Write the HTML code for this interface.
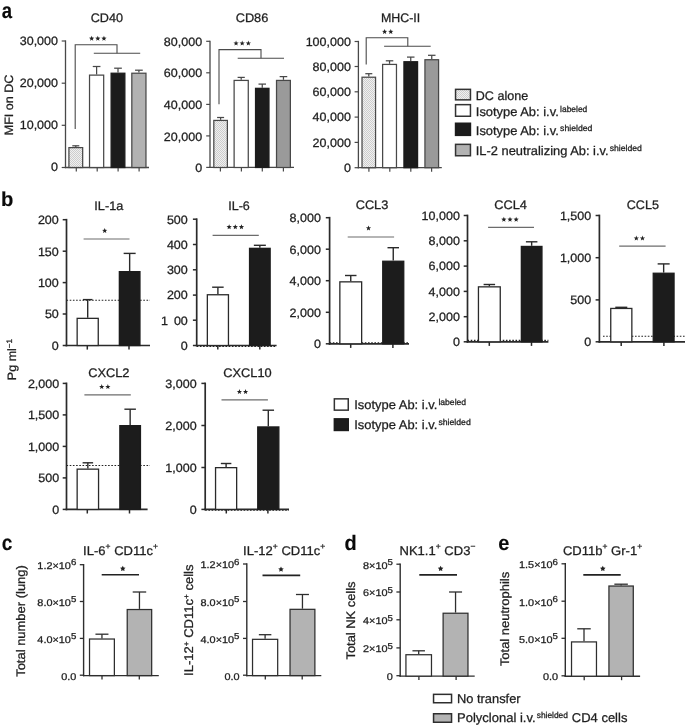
<!DOCTYPE html>
<html><head><meta charset="utf-8"><title>Figure</title>
<style>
html,body{margin:0;padding:0;background:#fff;}
body{width:685px;height:726px;overflow:hidden;font-family:"Liberation Sans",sans-serif;}
svg{display:block;will-change:transform;opacity:0.999;text-rendering:geometricPrecision;font-family:"Liberation Sans",sans-serif;}
</style></head><body>
<svg width="685" height="726" viewBox="0 0 685 726">
<defs>
<pattern id="dots" width="2" height="2" patternUnits="userSpaceOnUse">
<rect width="2" height="2" fill="#f0f0f0"/><rect width="1" height="1" fill="#cdcdcd"/><rect x="1" y="1" width="1" height="1" fill="#cdcdcd"/>
</pattern>
</defs>
<rect width="685" height="726" fill="#fff"/>
<text transform="translate(1.80,18.20) scale(0.85,1)" font-size="21.8" text-anchor="start" font-weight="bold" fill="#0a0a0a" stroke="#0a0a0a" stroke-width="0.15" >a</text>
<text transform="translate(1.10,205.80) scale(1.0,1)" font-size="20.2" text-anchor="start" font-weight="bold" fill="#0a0a0a" stroke="#0a0a0a" stroke-width="0.15" >b</text>
<text transform="translate(1.80,549.80) scale(0.89,1)" font-size="21.5" text-anchor="start" font-weight="bold" fill="#0a0a0a" stroke="#0a0a0a" stroke-width="0.15" >c</text>
<text transform="translate(344.60,549.80) scale(0.96,1)" font-size="20.8" text-anchor="start" font-weight="bold" fill="#0a0a0a" stroke="#0a0a0a" stroke-width="0.15" >d</text>
<text transform="translate(498.30,550.20) scale(0.95,1)" font-size="21" text-anchor="start" font-weight="bold" fill="#0a0a0a" stroke="#0a0a0a" stroke-width="0.15" >e</text>
<text transform="translate(106.80,22.30) scale(1.0195063442964458,1)" font-size="12.4" text-anchor="middle" font-weight="normal" fill="#1f1f1f" stroke="#1f1f1f" stroke-width="0.28" >CD40</text>
<line x1="65.50" y1="40.35" x2="65.50" y2="168.15" stroke="#484848" stroke-width="1.3" />
<line x1="64.85" y1="167.50" x2="149.00" y2="167.50" stroke="#484848" stroke-width="1.3" />
<line x1="61.70" y1="41.00" x2="65.50" y2="41.00" stroke="#484848" stroke-width="1.2" />
<text transform="translate(58.00,44.70) scale(1.035,1)" font-size="12.1" text-anchor="end" font-weight="normal" fill="#1f1f1f" stroke="#1f1f1f" stroke-width="0.28" >30,000</text>
<line x1="61.70" y1="83.20" x2="65.50" y2="83.20" stroke="#484848" stroke-width="1.2" />
<text transform="translate(58.00,86.90) scale(1.035,1)" font-size="12.1" text-anchor="end" font-weight="normal" fill="#1f1f1f" stroke="#1f1f1f" stroke-width="0.28" >20,000</text>
<line x1="61.70" y1="125.30" x2="65.50" y2="125.30" stroke="#484848" stroke-width="1.2" />
<text transform="translate(58.00,129.00) scale(1.035,1)" font-size="12.1" text-anchor="end" font-weight="normal" fill="#1f1f1f" stroke="#1f1f1f" stroke-width="0.28" >10,000</text>
<line x1="61.70" y1="167.50" x2="65.50" y2="167.50" stroke="#484848" stroke-width="1.2" />
<text transform="translate(58.00,171.20) scale(1.035,1)" font-size="12.1" text-anchor="end" font-weight="normal" fill="#1f1f1f" stroke="#1f1f1f" stroke-width="0.28" >0</text>
<line x1="76.30" y1="167.50" x2="76.30" y2="171.60" stroke="#484848" stroke-width="1.2" />
<line x1="97.20" y1="167.50" x2="97.20" y2="171.60" stroke="#484848" stroke-width="1.2" />
<line x1="118.10" y1="167.50" x2="118.10" y2="171.60" stroke="#484848" stroke-width="1.2" />
<line x1="139.10" y1="167.50" x2="139.10" y2="171.60" stroke="#484848" stroke-width="1.2" />
<line x1="75.80" y1="145.80" x2="75.80" y2="147.00" stroke="#484848" stroke-width="1.25" />
<line x1="72.30" y1="145.80" x2="79.30" y2="145.80" stroke="#484848" stroke-width="1.25" />
<rect x="68.92" y="147.62" width="13.75" height="19.88" fill="url(#dots)" stroke="#484848" stroke-width="1.25"/>
<line x1="96.60" y1="66.50" x2="96.60" y2="74.50" stroke="#484848" stroke-width="1.25" />
<line x1="92.75" y1="66.50" x2="100.45" y2="66.50" stroke="#484848" stroke-width="1.25" />
<rect x="89.53" y="75.12" width="14.15" height="92.38" fill="#fff" stroke="#484848" stroke-width="1.25"/>
<line x1="118.00" y1="68.20" x2="118.00" y2="72.60" stroke="#484848" stroke-width="1.25" />
<line x1="114.15" y1="68.20" x2="121.85" y2="68.20" stroke="#484848" stroke-width="1.25" />
<rect x="111.12" y="73.22" width="13.75" height="94.28" fill="#1c1c1c" stroke="#1c1c1c" stroke-width="1.25"/>
<line x1="138.90" y1="70.20" x2="138.90" y2="72.60" stroke="#484848" stroke-width="1.25" />
<line x1="135.05" y1="70.20" x2="142.75" y2="70.20" stroke="#484848" stroke-width="1.25" />
<rect x="131.82" y="73.22" width="14.15" height="94.28" fill="#b2b2b2" stroke="#484848" stroke-width="1.25"/>
<polyline points="75.20,129.00 75.20,44.70 117.00,44.70 117.00,53.30" fill="none" stroke="#4a4a4a" stroke-width="1.1"/>
<line x1="93.80" y1="53.30" x2="140.20" y2="53.30" stroke="#4a4a4a" stroke-width="1.1" />
<polygon points="91.65,35.80 92.33,37.62 94.27,37.70 92.75,38.91 93.27,40.77 91.65,39.71 90.03,40.77 90.55,38.91 89.03,37.70 90.97,37.62" fill="#222"/>
<polygon points="97.80,35.80 98.48,37.62 100.42,37.70 98.90,38.91 99.42,40.77 97.80,39.71 96.18,40.77 96.70,38.91 95.18,37.70 97.12,37.62" fill="#222"/>
<polygon points="103.95,35.80 104.63,37.62 106.57,37.70 105.05,38.91 105.57,40.77 103.95,39.71 102.33,40.77 102.85,38.91 101.33,37.70 103.27,37.62" fill="#222"/>
<text transform="translate(12.60,105.00) rotate(-90) scale(1.035,1)" font-size="12.1" text-anchor="middle" font-weight="normal" fill="#1f1f1f" stroke="#1f1f1f" stroke-width="0.28" >MFI on DC</text>
<text transform="translate(252.00,22.30) scale(1.0321318098604886,1)" font-size="12.4" text-anchor="middle" font-weight="normal" fill="#1f1f1f" stroke="#1f1f1f" stroke-width="0.28" >CD86</text>
<line x1="210.00" y1="40.65" x2="210.00" y2="168.05" stroke="#484848" stroke-width="1.3" />
<line x1="209.35" y1="167.40" x2="294.00" y2="167.40" stroke="#484848" stroke-width="1.3" />
<line x1="206.20" y1="41.30" x2="210.00" y2="41.30" stroke="#484848" stroke-width="1.2" />
<text transform="translate(202.10,45.90) scale(1.035,1)" font-size="12.1" text-anchor="end" font-weight="normal" fill="#1f1f1f" stroke="#1f1f1f" stroke-width="0.28" >80,000</text>
<line x1="206.20" y1="72.80" x2="210.00" y2="72.80" stroke="#484848" stroke-width="1.2" />
<text transform="translate(202.10,77.40) scale(1.035,1)" font-size="12.1" text-anchor="end" font-weight="normal" fill="#1f1f1f" stroke="#1f1f1f" stroke-width="0.28" >60,000</text>
<line x1="206.20" y1="104.40" x2="210.00" y2="104.40" stroke="#484848" stroke-width="1.2" />
<text transform="translate(202.10,109.00) scale(1.035,1)" font-size="12.1" text-anchor="end" font-weight="normal" fill="#1f1f1f" stroke="#1f1f1f" stroke-width="0.28" >40,000</text>
<line x1="206.20" y1="135.90" x2="210.00" y2="135.90" stroke="#484848" stroke-width="1.2" />
<text transform="translate(202.10,140.50) scale(1.035,1)" font-size="12.1" text-anchor="end" font-weight="normal" fill="#1f1f1f" stroke="#1f1f1f" stroke-width="0.28" >20,000</text>
<line x1="206.20" y1="167.40" x2="210.00" y2="167.40" stroke="#484848" stroke-width="1.2" />
<text transform="translate(202.10,172.00) scale(1.035,1)" font-size="12.1" text-anchor="end" font-weight="normal" fill="#1f1f1f" stroke="#1f1f1f" stroke-width="0.28" >0</text>
<line x1="220.40" y1="167.40" x2="220.40" y2="171.50" stroke="#484848" stroke-width="1.2" />
<line x1="241.40" y1="167.40" x2="241.40" y2="171.50" stroke="#484848" stroke-width="1.2" />
<line x1="262.30" y1="167.40" x2="262.30" y2="171.50" stroke="#484848" stroke-width="1.2" />
<line x1="283.40" y1="167.40" x2="283.40" y2="171.50" stroke="#484848" stroke-width="1.2" />
<line x1="220.60" y1="117.50" x2="220.60" y2="119.80" stroke="#484848" stroke-width="1.25" />
<line x1="217.10" y1="117.50" x2="224.10" y2="117.50" stroke="#484848" stroke-width="1.25" />
<rect x="213.82" y="120.42" width="13.55" height="47.08" fill="url(#dots)" stroke="#484848" stroke-width="1.25"/>
<line x1="241.20" y1="77.40" x2="241.20" y2="79.80" stroke="#484848" stroke-width="1.25" />
<line x1="237.60" y1="77.40" x2="244.80" y2="77.40" stroke="#484848" stroke-width="1.25" />
<rect x="234.12" y="80.42" width="14.15" height="87.08" fill="#fff" stroke="#484848" stroke-width="1.25"/>
<line x1="262.25" y1="84.10" x2="262.25" y2="87.70" stroke="#484848" stroke-width="1.25" />
<line x1="258.50" y1="84.10" x2="266.00" y2="84.10" stroke="#484848" stroke-width="1.25" />
<rect x="255.53" y="88.33" width="13.45" height="79.17" fill="#1c1c1c" stroke="#1c1c1c" stroke-width="1.25"/>
<line x1="283.45" y1="76.60" x2="283.45" y2="79.80" stroke="#484848" stroke-width="1.25" />
<line x1="279.65" y1="76.60" x2="287.25" y2="76.60" stroke="#484848" stroke-width="1.25" />
<rect x="276.52" y="80.42" width="13.85" height="87.08" fill="#9a9a9a" stroke="#484848" stroke-width="1.25"/>
<polyline points="219.00,104.20 219.00,49.60 261.00,49.60 261.00,58.30" fill="none" stroke="#4a4a4a" stroke-width="1.1"/>
<line x1="237.70" y1="58.30" x2="284.00" y2="58.30" stroke="#4a4a4a" stroke-width="1.1" />
<polygon points="236.05,40.60 236.73,42.42 238.67,42.50 237.15,43.71 237.67,45.57 236.05,44.51 234.43,45.57 234.95,43.71 233.43,42.50 235.37,42.42" fill="#222"/>
<polygon points="242.20,40.60 242.88,42.42 244.82,42.50 243.30,43.71 243.82,45.57 242.20,44.51 240.58,45.57 241.10,43.71 239.58,42.50 241.52,42.42" fill="#222"/>
<polygon points="248.35,40.60 249.03,42.42 250.97,42.50 249.45,43.71 249.97,45.57 248.35,44.51 246.73,45.57 247.25,43.71 245.73,42.50 247.67,42.42" fill="#222"/>
<text transform="translate(400.60,22.30) scale(1.0013759364011618,1)" font-size="12.4" text-anchor="middle" font-weight="normal" fill="#1f1f1f" stroke="#1f1f1f" stroke-width="0.28" >MHC-II</text>
<line x1="358.40" y1="40.85" x2="358.40" y2="168.35" stroke="#484848" stroke-width="1.3" />
<line x1="357.75" y1="167.70" x2="441.80" y2="167.70" stroke="#484848" stroke-width="1.3" />
<line x1="354.60" y1="41.50" x2="358.40" y2="41.50" stroke="#484848" stroke-width="1.2" />
<text transform="translate(350.90,45.80) scale(1.035,1)" font-size="12.1" text-anchor="end" font-weight="normal" fill="#1f1f1f" stroke="#1f1f1f" stroke-width="0.28" >100,000</text>
<line x1="354.60" y1="66.50" x2="358.40" y2="66.50" stroke="#484848" stroke-width="1.2" />
<text transform="translate(350.90,70.80) scale(1.035,1)" font-size="12.1" text-anchor="end" font-weight="normal" fill="#1f1f1f" stroke="#1f1f1f" stroke-width="0.28" >80,000</text>
<line x1="354.60" y1="91.80" x2="358.40" y2="91.80" stroke="#484848" stroke-width="1.2" />
<text transform="translate(350.90,96.10) scale(1.035,1)" font-size="12.1" text-anchor="end" font-weight="normal" fill="#1f1f1f" stroke="#1f1f1f" stroke-width="0.28" >60,000</text>
<line x1="354.60" y1="117.10" x2="358.40" y2="117.10" stroke="#484848" stroke-width="1.2" />
<text transform="translate(350.90,121.40) scale(1.035,1)" font-size="12.1" text-anchor="end" font-weight="normal" fill="#1f1f1f" stroke="#1f1f1f" stroke-width="0.28" >40,000</text>
<line x1="354.60" y1="142.40" x2="358.40" y2="142.40" stroke="#484848" stroke-width="1.2" />
<text transform="translate(350.90,146.70) scale(1.035,1)" font-size="12.1" text-anchor="end" font-weight="normal" fill="#1f1f1f" stroke="#1f1f1f" stroke-width="0.28" >20,000</text>
<line x1="354.60" y1="167.70" x2="358.40" y2="167.70" stroke="#484848" stroke-width="1.2" />
<text transform="translate(350.90,172.00) scale(1.035,1)" font-size="12.1" text-anchor="end" font-weight="normal" fill="#1f1f1f" stroke="#1f1f1f" stroke-width="0.28" >0</text>
<line x1="368.90" y1="167.70" x2="368.90" y2="171.80" stroke="#484848" stroke-width="1.2" />
<line x1="389.80" y1="167.70" x2="389.80" y2="171.80" stroke="#484848" stroke-width="1.2" />
<line x1="410.80" y1="167.70" x2="410.80" y2="171.80" stroke="#484848" stroke-width="1.2" />
<line x1="431.60" y1="167.70" x2="431.60" y2="171.80" stroke="#484848" stroke-width="1.2" />
<line x1="368.80" y1="73.70" x2="368.80" y2="76.60" stroke="#484848" stroke-width="1.25" />
<line x1="365.30" y1="73.70" x2="372.30" y2="73.70" stroke="#484848" stroke-width="1.25" />
<rect x="362.02" y="77.22" width="13.55" height="90.47" fill="url(#dots)" stroke="#484848" stroke-width="1.25"/>
<line x1="389.55" y1="60.80" x2="389.55" y2="63.80" stroke="#484848" stroke-width="1.25" />
<line x1="385.80" y1="60.80" x2="393.30" y2="60.80" stroke="#484848" stroke-width="1.25" />
<rect x="382.62" y="64.42" width="13.85" height="103.27" fill="#fff" stroke="#484848" stroke-width="1.25"/>
<line x1="410.75" y1="57.10" x2="410.75" y2="61.10" stroke="#484848" stroke-width="1.25" />
<line x1="407.00" y1="57.10" x2="414.50" y2="57.10" stroke="#484848" stroke-width="1.25" />
<rect x="403.93" y="61.73" width="13.65" height="105.97" fill="#1c1c1c" stroke="#1c1c1c" stroke-width="1.25"/>
<line x1="431.75" y1="55.30" x2="431.75" y2="59.10" stroke="#484848" stroke-width="1.25" />
<line x1="428.00" y1="55.30" x2="435.50" y2="55.30" stroke="#484848" stroke-width="1.25" />
<rect x="424.93" y="59.73" width="13.65" height="107.97" fill="#9a9a9a" stroke="#484848" stroke-width="1.25"/>
<polyline points="366.20,64.50 366.20,37.80 407.80,37.80 407.80,46.20" fill="none" stroke="#4a4a4a" stroke-width="1.1"/>
<line x1="384.10" y1="46.20" x2="430.70" y2="46.20" stroke="#4a4a4a" stroke-width="1.1" />
<polygon points="384.62,29.00 385.30,30.82 387.24,30.90 385.72,32.11 386.24,33.97 384.62,32.91 383.01,33.97 383.53,32.11 382.01,30.90 383.95,30.82" fill="#222"/>
<polygon points="390.77,29.00 391.45,30.82 393.39,30.90 391.87,32.11 392.39,33.97 390.77,32.91 389.16,33.97 389.68,32.11 388.16,30.90 390.10,30.82" fill="#222"/>
<rect x="455.55" y="89.35" width="14.90" height="10.50" fill="url(#dots)" stroke="#333" stroke-width="1.5"/>
<rect x="455.55" y="104.65" width="14.90" height="11.60" fill="#fff" stroke="#333" stroke-width="1.5"/>
<rect x="455.55" y="123.25" width="14.90" height="12.10" fill="#1c1c1c" stroke="#1c1c1c" stroke-width="1.5"/>
<rect x="455.55" y="144.35" width="14.90" height="11.40" fill="#b2b2b2" stroke="#333" stroke-width="1.5"/>
<text transform="translate(475.80,99.50) scale(0.9972974001750986,1)" font-size="12.6" text-anchor="start" font-weight="normal" fill="#1f1f1f" stroke="#1f1f1f" stroke-width="0.28" >DC alone</text>
<text transform="translate(475.80,115.90) scale(1.0244636994248184,1)" font-size="12.6" text-anchor="start" font-weight="normal" fill="#1f1f1f" stroke="#1f1f1f" stroke-width="0.28" >Isotype Ab: i.v.</text>
<text transform="translate(560.10,112.00) scale(0.9922480620155013,1)" font-size="8.5" text-anchor="start" font-weight="normal" fill="#1f1f1f" stroke="#1f1f1f" stroke-width="0.28" >labeled</text>
<text transform="translate(475.80,134.60) scale(1.0244636994248184,1)" font-size="12.6" text-anchor="start" font-weight="normal" fill="#1f1f1f" stroke="#1f1f1f" stroke-width="0.28" >Isotype Ab: i.v.</text>
<text transform="translate(560.10,130.70) scale(1.01697591788393,1)" font-size="8.5" text-anchor="start" font-weight="normal" fill="#1f1f1f" stroke="#1f1f1f" stroke-width="0.28" >shielded</text>
<text transform="translate(475.80,154.90) scale(1.0212870677986958,1)" font-size="12.6" text-anchor="start" font-weight="normal" fill="#1f1f1f" stroke="#1f1f1f" stroke-width="0.28" >IL-2 neutralizing Ab: i.v.</text>
<text transform="translate(609.70,151.00) scale(1.01697591788393,1)" font-size="8.5" text-anchor="start" font-weight="normal" fill="#1f1f1f" stroke="#1f1f1f" stroke-width="0.28" >shielded</text>
<text transform="translate(108.80,210.30) scale(1.0235053292863698,1)" font-size="12.4" text-anchor="middle" font-weight="normal" fill="#1f1f1f" stroke="#1f1f1f" stroke-width="0.28" >IL-1a</text>
<line x1="66.50" y1="300.30" x2="150.00" y2="300.30" stroke="#222" stroke-width="1.1" stroke-dasharray="1.6 1.6"/>
<line x1="66.50" y1="218.85" x2="66.50" y2="346.35" stroke="#2a2a2a" stroke-width="1.7" />
<line x1="65.65" y1="345.50" x2="150.00" y2="345.50" stroke="#2a2a2a" stroke-width="1.7" />
<line x1="62.70" y1="219.70" x2="66.50" y2="219.70" stroke="#2a2a2a" stroke-width="1.5" />
<text transform="translate(58.80,224.00) scale(1.035,1)" font-size="12.1" text-anchor="end" font-weight="normal" fill="#1f1f1f" stroke="#1f1f1f" stroke-width="0.28" >200</text>
<line x1="62.70" y1="251.20" x2="66.50" y2="251.20" stroke="#2a2a2a" stroke-width="1.5" />
<text transform="translate(58.80,255.50) scale(1.035,1)" font-size="12.1" text-anchor="end" font-weight="normal" fill="#1f1f1f" stroke="#1f1f1f" stroke-width="0.28" >150</text>
<line x1="62.70" y1="282.60" x2="66.50" y2="282.60" stroke="#2a2a2a" stroke-width="1.5" />
<text transform="translate(58.80,286.90) scale(1.035,1)" font-size="12.1" text-anchor="end" font-weight="normal" fill="#1f1f1f" stroke="#1f1f1f" stroke-width="0.28" >100</text>
<line x1="62.70" y1="314.00" x2="66.50" y2="314.00" stroke="#2a2a2a" stroke-width="1.5" />
<text transform="translate(58.80,318.30) scale(1.035,1)" font-size="12.1" text-anchor="end" font-weight="normal" fill="#1f1f1f" stroke="#1f1f1f" stroke-width="0.28" >50</text>
<line x1="62.70" y1="345.50" x2="66.50" y2="345.50" stroke="#2a2a2a" stroke-width="1.5" />
<text transform="translate(58.80,349.80) scale(1.035,1)" font-size="12.1" text-anchor="end" font-weight="normal" fill="#1f1f1f" stroke="#1f1f1f" stroke-width="0.28" >0</text>
<line x1="87.30" y1="345.50" x2="87.30" y2="349.60" stroke="#2a2a2a" stroke-width="1.5" />
<line x1="129.00" y1="345.50" x2="129.00" y2="349.60" stroke="#2a2a2a" stroke-width="1.5" />
<line x1="87.70" y1="299.60" x2="87.70" y2="317.70" stroke="#2a2a2a" stroke-width="1.4" />
<line x1="82.95" y1="299.60" x2="92.45" y2="299.60" stroke="#2a2a2a" stroke-width="1.4" />
<rect x="77.15" y="318.35" width="21.10" height="27.15" fill="#fff" stroke="#2a2a2a" stroke-width="1.3"/>
<line x1="129.65" y1="253.40" x2="129.65" y2="271.00" stroke="#2a2a2a" stroke-width="1.4" />
<line x1="123.65" y1="253.40" x2="135.65" y2="253.40" stroke="#2a2a2a" stroke-width="1.4" />
<rect x="119.35" y="271.65" width="20.60" height="73.85" fill="#1c1c1c" stroke="#1c1c1c" stroke-width="1.3"/>
<line x1="83.60" y1="239.00" x2="129.50" y2="239.00" stroke="#6c6c6c" stroke-width="1.2" />
<polygon points="104.70,228.00 105.38,229.82 107.32,229.90 105.80,231.11 106.32,232.97 104.70,231.91 103.08,232.97 103.60,231.11 102.08,229.90 104.02,229.82" fill="#222"/>
<text transform="translate(239.00,209.80) scale(1.0098176718092566,1)" font-size="12.4" text-anchor="middle" font-weight="normal" fill="#1f1f1f" stroke="#1f1f1f" stroke-width="0.28" >IL-6</text>
<line x1="196.70" y1="346.40" x2="276.60" y2="346.40" stroke="#222" stroke-width="1.1" stroke-dasharray="1.6 1.6"/>
<line x1="196.70" y1="218.35" x2="196.70" y2="346.35" stroke="#2a2a2a" stroke-width="1.7" />
<line x1="195.85" y1="345.50" x2="276.60" y2="345.50" stroke="#2a2a2a" stroke-width="1.7" />
<line x1="192.90" y1="219.20" x2="196.70" y2="219.20" stroke="#2a2a2a" stroke-width="1.5" />
<text transform="translate(187.80,223.50) scale(1.035,1)" font-size="12.1" text-anchor="end" font-weight="normal" fill="#1f1f1f" stroke="#1f1f1f" stroke-width="0.28" >500</text>
<line x1="192.90" y1="244.50" x2="196.70" y2="244.50" stroke="#2a2a2a" stroke-width="1.5" />
<text transform="translate(187.80,248.80) scale(1.035,1)" font-size="12.1" text-anchor="end" font-weight="normal" fill="#1f1f1f" stroke="#1f1f1f" stroke-width="0.28" >400</text>
<line x1="192.90" y1="269.80" x2="196.70" y2="269.80" stroke="#2a2a2a" stroke-width="1.5" />
<text transform="translate(187.80,274.10) scale(1.035,1)" font-size="12.1" text-anchor="end" font-weight="normal" fill="#1f1f1f" stroke="#1f1f1f" stroke-width="0.28" >300</text>
<line x1="192.90" y1="295.10" x2="196.70" y2="295.10" stroke="#2a2a2a" stroke-width="1.5" />
<text transform="translate(187.80,299.40) scale(1.035,1)" font-size="12.1" text-anchor="end" font-weight="normal" fill="#1f1f1f" stroke="#1f1f1f" stroke-width="0.28" >200</text>
<line x1="192.90" y1="320.20" x2="196.70" y2="320.20" stroke="#2a2a2a" stroke-width="1.5" />
<text transform="translate(187.80,324.50) scale(1.035,1)" font-size="12.1" text-anchor="end" font-weight="normal" fill="#1f1f1f" stroke="#1f1f1f" stroke-width="0.28" >1<tspan dx="5.6">00</tspan></text>
<line x1="192.90" y1="345.50" x2="196.70" y2="345.50" stroke="#2a2a2a" stroke-width="1.5" />
<text transform="translate(187.80,349.80) scale(1.035,1)" font-size="12.1" text-anchor="end" font-weight="normal" fill="#1f1f1f" stroke="#1f1f1f" stroke-width="0.28" >0</text>
<line x1="217.80" y1="345.50" x2="217.80" y2="349.60" stroke="#2a2a2a" stroke-width="1.5" />
<line x1="259.80" y1="345.50" x2="259.80" y2="349.60" stroke="#2a2a2a" stroke-width="1.5" />
<line x1="217.90" y1="287.20" x2="217.90" y2="294.10" stroke="#2a2a2a" stroke-width="1.4" />
<line x1="212.15" y1="287.20" x2="223.65" y2="287.20" stroke="#2a2a2a" stroke-width="1.4" />
<rect x="207.35" y="294.75" width="21.10" height="50.75" fill="#fff" stroke="#2a2a2a" stroke-width="1.3"/>
<line x1="259.85" y1="245.30" x2="259.85" y2="247.70" stroke="#2a2a2a" stroke-width="1.4" />
<line x1="253.85" y1="245.30" x2="265.85" y2="245.30" stroke="#2a2a2a" stroke-width="1.4" />
<rect x="249.55" y="248.35" width="20.60" height="97.15" fill="#1c1c1c" stroke="#1c1c1c" stroke-width="1.3"/>
<line x1="212.60" y1="235.30" x2="258.80" y2="235.30" stroke="#6c6c6c" stroke-width="1.2" />
<polygon points="229.15,224.30 229.83,226.12 231.77,226.20 230.25,227.41 230.77,229.27 229.15,228.20 227.53,229.27 228.05,227.41 226.53,226.20 228.47,226.12" fill="#222"/>
<polygon points="235.30,224.30 235.98,226.12 237.92,226.20 236.40,227.41 236.92,229.27 235.30,228.20 233.68,229.27 234.20,227.41 232.68,226.20 234.62,226.12" fill="#222"/>
<polygon points="241.45,224.30 242.13,226.12 244.07,226.20 242.55,227.41 243.07,229.27 241.45,228.20 239.83,229.27 240.35,227.41 238.83,226.20 240.77,226.12" fill="#222"/>
<text transform="translate(372.00,209.30) scale(1.0321318098604886,1)" font-size="12.4" text-anchor="middle" font-weight="normal" fill="#1f1f1f" stroke="#1f1f1f" stroke-width="0.28" >CCL3</text>
<line x1="329.60" y1="342.80" x2="409.00" y2="342.80" stroke="#222" stroke-width="1.1" stroke-dasharray="1.6 1.6"/>
<line x1="329.60" y1="216.85" x2="329.60" y2="344.65" stroke="#2a2a2a" stroke-width="1.7" />
<line x1="328.75" y1="343.80" x2="409.00" y2="343.80" stroke="#2a2a2a" stroke-width="1.7" />
<line x1="325.80" y1="217.70" x2="329.60" y2="217.70" stroke="#2a2a2a" stroke-width="1.5" />
<text transform="translate(320.90,222.00) scale(1.035,1)" font-size="12.1" text-anchor="end" font-weight="normal" fill="#1f1f1f" stroke="#1f1f1f" stroke-width="0.28" >8,000</text>
<line x1="325.80" y1="249.20" x2="329.60" y2="249.20" stroke="#2a2a2a" stroke-width="1.5" />
<text transform="translate(320.90,253.50) scale(1.035,1)" font-size="12.1" text-anchor="end" font-weight="normal" fill="#1f1f1f" stroke="#1f1f1f" stroke-width="0.28" >6,000</text>
<line x1="325.80" y1="280.70" x2="329.60" y2="280.70" stroke="#2a2a2a" stroke-width="1.5" />
<text transform="translate(320.90,285.00) scale(1.035,1)" font-size="12.1" text-anchor="end" font-weight="normal" fill="#1f1f1f" stroke="#1f1f1f" stroke-width="0.28" >4,000</text>
<line x1="325.80" y1="312.30" x2="329.60" y2="312.30" stroke="#2a2a2a" stroke-width="1.5" />
<text transform="translate(320.90,316.60) scale(1.035,1)" font-size="12.1" text-anchor="end" font-weight="normal" fill="#1f1f1f" stroke="#1f1f1f" stroke-width="0.28" >2,000</text>
<line x1="325.80" y1="343.80" x2="329.60" y2="343.80" stroke="#2a2a2a" stroke-width="1.5" />
<text transform="translate(320.90,348.10) scale(1.035,1)" font-size="12.1" text-anchor="end" font-weight="normal" fill="#1f1f1f" stroke="#1f1f1f" stroke-width="0.28" >0</text>
<line x1="350.70" y1="343.80" x2="350.70" y2="347.90" stroke="#2a2a2a" stroke-width="1.5" />
<line x1="392.90" y1="343.80" x2="392.90" y2="347.90" stroke="#2a2a2a" stroke-width="1.5" />
<line x1="350.75" y1="275.50" x2="350.75" y2="281.20" stroke="#2a2a2a" stroke-width="1.4" />
<line x1="345.00" y1="275.50" x2="356.50" y2="275.50" stroke="#2a2a2a" stroke-width="1.4" />
<rect x="339.85" y="281.85" width="21.80" height="61.95" fill="#fff" stroke="#2a2a2a" stroke-width="1.3"/>
<line x1="393.25" y1="247.70" x2="393.25" y2="260.60" stroke="#2a2a2a" stroke-width="1.4" />
<line x1="387.50" y1="247.70" x2="399.00" y2="247.70" stroke="#2a2a2a" stroke-width="1.4" />
<rect x="382.75" y="261.25" width="21.00" height="82.55" fill="#1c1c1c" stroke="#1c1c1c" stroke-width="1.3"/>
<line x1="347.70" y1="237.00" x2="394.10" y2="237.00" stroke="#6c6c6c" stroke-width="1.2" />
<polygon points="368.50,225.50 369.18,227.32 371.12,227.40 369.60,228.61 370.12,230.47 368.50,229.41 366.88,230.47 367.40,228.61 365.88,227.40 367.82,227.32" fill="#222"/>
<text transform="translate(510.60,209.30) scale(1.0321318098604886,1)" font-size="12.4" text-anchor="middle" font-weight="normal" fill="#1f1f1f" stroke="#1f1f1f" stroke-width="0.28" >CCL4</text>
<line x1="467.50" y1="340.40" x2="548.40" y2="340.40" stroke="#222" stroke-width="1.1" stroke-dasharray="1.6 1.6"/>
<line x1="467.50" y1="214.65" x2="467.50" y2="342.65" stroke="#2a2a2a" stroke-width="1.7" />
<line x1="466.65" y1="341.80" x2="548.40" y2="341.80" stroke="#2a2a2a" stroke-width="1.7" />
<line x1="463.70" y1="215.50" x2="467.50" y2="215.50" stroke="#2a2a2a" stroke-width="1.5" />
<text transform="translate(459.90,219.80) scale(1.035,1)" font-size="12.1" text-anchor="end" font-weight="normal" fill="#1f1f1f" stroke="#1f1f1f" stroke-width="0.28" >10,000</text>
<line x1="463.70" y1="240.80" x2="467.50" y2="240.80" stroke="#2a2a2a" stroke-width="1.5" />
<text transform="translate(459.90,245.10) scale(1.035,1)" font-size="12.1" text-anchor="end" font-weight="normal" fill="#1f1f1f" stroke="#1f1f1f" stroke-width="0.28" >8,000</text>
<line x1="463.70" y1="266.10" x2="467.50" y2="266.10" stroke="#2a2a2a" stroke-width="1.5" />
<text transform="translate(459.90,270.40) scale(1.035,1)" font-size="12.1" text-anchor="end" font-weight="normal" fill="#1f1f1f" stroke="#1f1f1f" stroke-width="0.28" >6,000</text>
<line x1="463.70" y1="291.40" x2="467.50" y2="291.40" stroke="#2a2a2a" stroke-width="1.5" />
<text transform="translate(459.90,295.70) scale(1.035,1)" font-size="12.1" text-anchor="end" font-weight="normal" fill="#1f1f1f" stroke="#1f1f1f" stroke-width="0.28" >4,000</text>
<line x1="463.70" y1="316.70" x2="467.50" y2="316.70" stroke="#2a2a2a" stroke-width="1.5" />
<text transform="translate(459.90,321.00) scale(1.035,1)" font-size="12.1" text-anchor="end" font-weight="normal" fill="#1f1f1f" stroke="#1f1f1f" stroke-width="0.28" >2,000</text>
<line x1="463.70" y1="341.80" x2="467.50" y2="341.80" stroke="#2a2a2a" stroke-width="1.5" />
<text transform="translate(459.90,346.10) scale(1.035,1)" font-size="12.1" text-anchor="end" font-weight="normal" fill="#1f1f1f" stroke="#1f1f1f" stroke-width="0.28" >0</text>
<line x1="489.30" y1="341.80" x2="489.30" y2="345.90" stroke="#2a2a2a" stroke-width="1.5" />
<line x1="531.50" y1="341.80" x2="531.50" y2="345.90" stroke="#2a2a2a" stroke-width="1.5" />
<line x1="489.35" y1="284.50" x2="489.35" y2="286.20" stroke="#2a2a2a" stroke-width="1.4" />
<line x1="483.60" y1="284.50" x2="495.10" y2="284.50" stroke="#2a2a2a" stroke-width="1.4" />
<rect x="478.45" y="286.85" width="21.80" height="54.95" fill="#fff" stroke="#2a2a2a" stroke-width="1.3"/>
<line x1="531.65" y1="241.80" x2="531.65" y2="245.80" stroke="#2a2a2a" stroke-width="1.4" />
<line x1="525.90" y1="241.80" x2="537.40" y2="241.80" stroke="#2a2a2a" stroke-width="1.4" />
<rect x="521.35" y="246.45" width="20.60" height="95.35" fill="#1c1c1c" stroke="#1c1c1c" stroke-width="1.3"/>
<line x1="488.10" y1="227.30" x2="534.00" y2="227.30" stroke="#6c6c6c" stroke-width="1.2" />
<polygon points="503.85,216.80 504.53,218.62 506.47,218.70 504.95,219.91 505.47,221.77 503.85,220.70 502.23,221.77 502.75,219.91 501.23,218.70 503.17,218.62" fill="#222"/>
<polygon points="510.00,216.80 510.68,218.62 512.62,218.70 511.10,219.91 511.62,221.77 510.00,220.70 508.38,221.77 508.90,219.91 507.38,218.70 509.32,218.62" fill="#222"/>
<polygon points="516.15,216.80 516.83,218.62 518.77,218.70 517.25,219.91 517.77,221.77 516.15,220.70 514.53,221.77 515.05,219.91 513.53,218.70 515.47,218.62" fill="#222"/>
<text transform="translate(642.80,209.30) scale(1.0163499779054352,1)" font-size="12.4" text-anchor="middle" font-weight="normal" fill="#1f1f1f" stroke="#1f1f1f" stroke-width="0.28" >CCL5</text>
<line x1="603.00" y1="336.30" x2="685.00" y2="336.30" stroke="#222" stroke-width="1.1" stroke-dasharray="1.6 1.6"/>
<line x1="599.40" y1="214.65" x2="599.40" y2="342.65" stroke="#2a2a2a" stroke-width="1.7" />
<line x1="598.55" y1="341.80" x2="685.00" y2="341.80" stroke="#2a2a2a" stroke-width="1.7" />
<line x1="595.60" y1="215.50" x2="599.40" y2="215.50" stroke="#2a2a2a" stroke-width="1.5" />
<text transform="translate(591.20,219.80) scale(1.035,1)" font-size="12.1" text-anchor="end" font-weight="normal" fill="#1f1f1f" stroke="#1f1f1f" stroke-width="0.28" >1,500</text>
<line x1="595.60" y1="257.70" x2="599.40" y2="257.70" stroke="#2a2a2a" stroke-width="1.5" />
<text transform="translate(591.20,262.00) scale(1.035,1)" font-size="12.1" text-anchor="end" font-weight="normal" fill="#1f1f1f" stroke="#1f1f1f" stroke-width="0.28" >1,000</text>
<line x1="595.60" y1="299.90" x2="599.40" y2="299.90" stroke="#2a2a2a" stroke-width="1.5" />
<text transform="translate(591.20,304.20) scale(1.035,1)" font-size="12.1" text-anchor="end" font-weight="normal" fill="#1f1f1f" stroke="#1f1f1f" stroke-width="0.28" >500</text>
<line x1="595.60" y1="341.80" x2="599.40" y2="341.80" stroke="#2a2a2a" stroke-width="1.5" />
<text transform="translate(591.20,346.10) scale(1.035,1)" font-size="12.1" text-anchor="end" font-weight="normal" fill="#1f1f1f" stroke="#1f1f1f" stroke-width="0.28" >0</text>
<line x1="621.20" y1="341.80" x2="621.20" y2="345.90" stroke="#2a2a2a" stroke-width="1.5" />
<line x1="663.90" y1="341.80" x2="663.90" y2="345.90" stroke="#2a2a2a" stroke-width="1.5" />
<line x1="621.30" y1="307.30" x2="621.30" y2="307.80" stroke="#2a2a2a" stroke-width="1.4" />
<line x1="615.30" y1="307.30" x2="627.30" y2="307.30" stroke="#2a2a2a" stroke-width="1.4" />
<rect x="610.75" y="308.45" width="21.10" height="33.35" fill="#fff" stroke="#2a2a2a" stroke-width="1.3"/>
<line x1="663.65" y1="263.90" x2="663.65" y2="272.60" stroke="#2a2a2a" stroke-width="1.4" />
<line x1="657.65" y1="263.90" x2="669.65" y2="263.90" stroke="#2a2a2a" stroke-width="1.4" />
<rect x="653.25" y="273.25" width="20.80" height="68.55" fill="#1c1c1c" stroke="#1c1c1c" stroke-width="1.3"/>
<line x1="619.20" y1="246.20" x2="665.60" y2="246.20" stroke="#6c6c6c" stroke-width="1.2" />
<polygon points="636.32,235.60 637.00,237.42 638.94,237.50 637.42,238.71 637.94,240.57 636.32,239.50 634.71,240.57 635.23,238.71 633.71,237.50 635.65,237.42" fill="#222"/>
<polygon points="642.48,235.60 643.15,237.42 645.09,237.50 643.57,238.71 644.09,240.57 642.48,239.50 640.86,240.57 641.38,238.71 639.86,237.50 641.80,237.42" fill="#222"/>
<text transform="translate(108.80,376.80) scale(1.0352588147036759,1)" font-size="12.4" text-anchor="middle" font-weight="normal" fill="#1f1f1f" stroke="#1f1f1f" stroke-width="0.28" >CXCL2</text>
<line x1="66.50" y1="465.50" x2="150.00" y2="465.50" stroke="#222" stroke-width="1.1" stroke-dasharray="1.6 1.6"/>
<line x1="66.50" y1="382.55" x2="66.50" y2="510.25" stroke="#2a2a2a" stroke-width="1.7" />
<line x1="65.65" y1="509.40" x2="147.60" y2="509.40" stroke="#2a2a2a" stroke-width="1.7" />
<line x1="62.70" y1="383.40" x2="66.50" y2="383.40" stroke="#2a2a2a" stroke-width="1.5" />
<text transform="translate(59.20,387.70) scale(1.035,1)" font-size="12.1" text-anchor="end" font-weight="normal" fill="#1f1f1f" stroke="#1f1f1f" stroke-width="0.28" >2,000</text>
<line x1="62.70" y1="414.90" x2="66.50" y2="414.90" stroke="#2a2a2a" stroke-width="1.5" />
<text transform="translate(59.20,419.20) scale(1.035,1)" font-size="12.1" text-anchor="end" font-weight="normal" fill="#1f1f1f" stroke="#1f1f1f" stroke-width="0.28" >1,500</text>
<line x1="62.70" y1="446.40" x2="66.50" y2="446.40" stroke="#2a2a2a" stroke-width="1.5" />
<text transform="translate(59.20,450.70) scale(1.035,1)" font-size="12.1" text-anchor="end" font-weight="normal" fill="#1f1f1f" stroke="#1f1f1f" stroke-width="0.28" >1,000</text>
<line x1="62.70" y1="477.90" x2="66.50" y2="477.90" stroke="#2a2a2a" stroke-width="1.5" />
<text transform="translate(59.20,482.20) scale(1.035,1)" font-size="12.1" text-anchor="end" font-weight="normal" fill="#1f1f1f" stroke="#1f1f1f" stroke-width="0.28" >500</text>
<line x1="62.70" y1="509.40" x2="66.50" y2="509.40" stroke="#2a2a2a" stroke-width="1.5" />
<text transform="translate(59.20,513.70) scale(1.035,1)" font-size="12.1" text-anchor="end" font-weight="normal" fill="#1f1f1f" stroke="#1f1f1f" stroke-width="0.28" >0</text>
<line x1="87.30" y1="509.40" x2="87.30" y2="513.50" stroke="#2a2a2a" stroke-width="1.5" />
<line x1="129.50" y1="509.40" x2="129.50" y2="513.50" stroke="#2a2a2a" stroke-width="1.5" />
<line x1="87.85" y1="462.80" x2="87.85" y2="468.50" stroke="#2a2a2a" stroke-width="1.4" />
<line x1="82.60" y1="462.80" x2="93.10" y2="462.80" stroke="#2a2a2a" stroke-width="1.4" />
<rect x="77.15" y="469.15" width="21.40" height="40.25" fill="#fff" stroke="#2a2a2a" stroke-width="1.3"/>
<line x1="130.15" y1="409.20" x2="130.15" y2="425.00" stroke="#2a2a2a" stroke-width="1.4" />
<line x1="124.40" y1="409.20" x2="135.90" y2="409.20" stroke="#2a2a2a" stroke-width="1.4" />
<rect x="119.85" y="425.65" width="20.60" height="83.75" fill="#1c1c1c" stroke="#1c1c1c" stroke-width="1.3"/>
<line x1="84.40" y1="394.90" x2="130.80" y2="394.90" stroke="#6c6c6c" stroke-width="1.2" />
<polygon points="101.72,384.10 102.40,385.92 104.34,386.00 102.82,387.21 103.34,389.07 101.72,388.00 100.11,389.07 100.63,387.21 99.11,386.00 101.05,385.92" fill="#222"/>
<polygon points="107.88,384.10 108.55,385.92 110.49,386.00 108.97,387.21 109.49,389.07 107.88,388.00 106.26,389.07 106.78,387.21 105.26,386.00 107.20,385.92" fill="#222"/>
<text transform="translate(247.50,376.80) scale(1.0347328895715993,1)" font-size="12.4" text-anchor="middle" font-weight="normal" fill="#1f1f1f" stroke="#1f1f1f" stroke-width="0.28" >CXCL10</text>
<line x1="205.20" y1="510.30" x2="289.00" y2="510.30" stroke="#222" stroke-width="1.1" stroke-dasharray="1.6 1.6"/>
<line x1="205.20" y1="382.55" x2="205.20" y2="510.25" stroke="#2a2a2a" stroke-width="1.7" />
<line x1="204.35" y1="509.40" x2="289.00" y2="509.40" stroke="#2a2a2a" stroke-width="1.7" />
<line x1="201.40" y1="383.40" x2="205.20" y2="383.40" stroke="#2a2a2a" stroke-width="1.5" />
<text transform="translate(196.60,387.70) scale(1.035,1)" font-size="12.1" text-anchor="end" font-weight="normal" fill="#1f1f1f" stroke="#1f1f1f" stroke-width="0.28" >3,000</text>
<line x1="201.40" y1="425.50" x2="205.20" y2="425.50" stroke="#2a2a2a" stroke-width="1.5" />
<text transform="translate(196.60,429.80) scale(1.035,1)" font-size="12.1" text-anchor="end" font-weight="normal" fill="#1f1f1f" stroke="#1f1f1f" stroke-width="0.28" >2,000</text>
<line x1="201.40" y1="467.50" x2="205.20" y2="467.50" stroke="#2a2a2a" stroke-width="1.5" />
<text transform="translate(196.60,471.80) scale(1.035,1)" font-size="12.1" text-anchor="end" font-weight="normal" fill="#1f1f1f" stroke="#1f1f1f" stroke-width="0.28" >1,000</text>
<line x1="201.40" y1="509.40" x2="205.20" y2="509.40" stroke="#2a2a2a" stroke-width="1.5" />
<text transform="translate(196.60,513.70) scale(1.035,1)" font-size="12.1" text-anchor="end" font-weight="normal" fill="#1f1f1f" stroke="#1f1f1f" stroke-width="0.28" >0</text>
<line x1="226.30" y1="509.40" x2="226.30" y2="513.50" stroke="#2a2a2a" stroke-width="1.5" />
<line x1="267.90" y1="509.40" x2="267.90" y2="513.50" stroke="#2a2a2a" stroke-width="1.5" />
<line x1="226.10" y1="463.50" x2="226.10" y2="467.00" stroke="#2a2a2a" stroke-width="1.4" />
<line x1="220.85" y1="463.50" x2="231.35" y2="463.50" stroke="#2a2a2a" stroke-width="1.4" />
<rect x="215.55" y="467.65" width="21.10" height="41.75" fill="#fff" stroke="#2a2a2a" stroke-width="1.3"/>
<line x1="268.30" y1="410.20" x2="268.30" y2="426.30" stroke="#2a2a2a" stroke-width="1.4" />
<line x1="262.55" y1="410.20" x2="274.05" y2="410.20" stroke="#2a2a2a" stroke-width="1.4" />
<rect x="257.75" y="426.95" width="21.10" height="82.45" fill="#1c1c1c" stroke="#1c1c1c" stroke-width="1.3"/>
<line x1="221.50" y1="399.80" x2="267.90" y2="399.80" stroke="#6c6c6c" stroke-width="1.2" />
<polygon points="239.43,389.10 240.10,390.92 242.04,391.00 240.52,392.21 241.04,394.07 239.43,393.00 237.81,394.07 238.33,392.21 236.81,391.00 238.75,390.92" fill="#222"/>
<polygon points="245.57,389.10 246.25,390.92 248.19,391.00 246.67,392.21 247.19,394.07 245.57,393.00 243.96,394.07 244.48,392.21 242.96,391.00 244.90,390.92" fill="#222"/>
<text transform="translate(16.00,359.50) rotate(-90) scale(1.035,1)" font-size="12.1" text-anchor="middle" font-weight="normal" fill="#1f1f1f" stroke="#1f1f1f" stroke-width="0.28" >Pg ml<tspan dy="-4.5" font-size="7.9">&#8722;1</tspan><tspan dy="4.5" font-size="7.9">&#8203;</tspan></text>
<rect x="334.35" y="398.85" width="13.90" height="11.30" fill="#fff" stroke="#333" stroke-width="1.5"/>
<rect x="334.35" y="418.85" width="13.90" height="11.60" fill="#1c1c1c" stroke="#1c1c1c" stroke-width="1.5"/>
<text transform="translate(354.20,409.10) scale(1.0269322866523487,1)" font-size="12.6" text-anchor="start" font-weight="normal" fill="#1f1f1f" stroke="#1f1f1f" stroke-width="0.28" >Isotype Ab: i.v.</text>
<text transform="translate(438.40,405.20) scale(1.0104879160966729,1)" font-size="8.5" text-anchor="start" font-weight="normal" fill="#1f1f1f" stroke="#1f1f1f" stroke-width="0.28" >labeled</text>
<text transform="translate(354.20,429.00) scale(1.0269322866523487,1)" font-size="12.6" text-anchor="start" font-weight="normal" fill="#1f1f1f" stroke="#1f1f1f" stroke-width="0.28" >Isotype Ab: i.v.</text>
<text transform="translate(438.40,425.10) scale(1.0201342281879198,1)" font-size="8.5" text-anchor="start" font-weight="normal" fill="#1f1f1f" stroke="#1f1f1f" stroke-width="0.28" >shielded</text>
<text transform="translate(83.10,554.80) scale(1.035,1)" font-size="12.6" text-anchor="start" font-weight="normal" fill="#1f1f1f" stroke="#1f1f1f" stroke-width="0.28" >IL-6<tspan dy="-5.6" font-size="8.2">+</tspan><tspan dy="5.6" font-size="8.2">&#8203;</tspan> CD11c<tspan dy="-5.6" font-size="8.2">+</tspan><tspan dy="5.6" font-size="8.2">&#8203;</tspan></text>
<line x1="83.60" y1="564.00" x2="83.60" y2="676.30" stroke="#2e2e2e" stroke-width="1.4" />
<line x1="82.90" y1="675.60" x2="158.80" y2="675.60" stroke="#2e2e2e" stroke-width="1.4" />
<line x1="79.80" y1="564.70" x2="83.60" y2="564.70" stroke="#2e2e2e" stroke-width="1.3" />
<text transform="translate(76.30,569.10) scale(1.11,1)" font-size="9.8" text-anchor="end" font-weight="normal" fill="#1f1f1f" stroke="#1f1f1f" stroke-width="0.28" >1.2&#215;10<tspan dy="-3.7" font-size="8.7">6</tspan><tspan dy="3.7" font-size="8.7">&#8203;</tspan></text>
<line x1="79.80" y1="601.50" x2="83.60" y2="601.50" stroke="#2e2e2e" stroke-width="1.3" />
<text transform="translate(76.30,605.90) scale(1.11,1)" font-size="9.8" text-anchor="end" font-weight="normal" fill="#1f1f1f" stroke="#1f1f1f" stroke-width="0.28" >8.0&#215;10<tspan dy="-3.7" font-size="8.7">5</tspan><tspan dy="3.7" font-size="8.7">&#8203;</tspan></text>
<line x1="79.80" y1="638.40" x2="83.60" y2="638.40" stroke="#2e2e2e" stroke-width="1.3" />
<text transform="translate(76.30,642.80) scale(1.11,1)" font-size="9.8" text-anchor="end" font-weight="normal" fill="#1f1f1f" stroke="#1f1f1f" stroke-width="0.28" >4.0&#215;10<tspan dy="-3.7" font-size="8.7">5</tspan><tspan dy="3.7" font-size="8.7">&#8203;</tspan></text>
<line x1="79.80" y1="675.20" x2="83.60" y2="675.20" stroke="#2e2e2e" stroke-width="1.3" />
<text transform="translate(76.30,679.60) scale(1.11,1)" font-size="9.8" text-anchor="end" font-weight="normal" fill="#1f1f1f" stroke="#1f1f1f" stroke-width="0.28" >0.0</text>
<line x1="102.00" y1="675.60" x2="102.00" y2="679.60" stroke="#2e2e2e" stroke-width="1.3" />
<line x1="139.30" y1="675.60" x2="139.30" y2="679.60" stroke="#2e2e2e" stroke-width="1.3" />
<line x1="101.95" y1="634.20" x2="101.95" y2="638.40" stroke="#2e2e2e" stroke-width="1.3" />
<line x1="95.45" y1="634.20" x2="108.45" y2="634.20" stroke="#2e2e2e" stroke-width="1.3" />
<rect x="89.52" y="639.02" width="24.85" height="36.58" fill="#fff" stroke="#2e2e2e" stroke-width="1.25"/>
<line x1="139.45" y1="592.00" x2="139.45" y2="608.90" stroke="#2e2e2e" stroke-width="1.3" />
<line x1="132.70" y1="592.00" x2="146.20" y2="592.00" stroke="#2e2e2e" stroke-width="1.3" />
<rect x="127.22" y="609.52" width="24.45" height="66.08" fill="#b3b3b3" stroke="#2e2e2e" stroke-width="1.25"/>
<line x1="101.70" y1="574.70" x2="139.00" y2="574.70" stroke="#222" stroke-width="1.6" />
<polygon points="122.80,565.75 123.68,567.44 125.56,567.75 124.23,569.11 124.50,571.00 122.80,570.15 121.10,571.00 121.37,569.11 120.04,567.75 121.92,567.44" fill="#222"/>
<text transform="translate(25.30,621.00) rotate(-90) scale(1.0456255967648325,1)" font-size="12.4" text-anchor="middle" font-weight="normal" fill="#1f1f1f" stroke="#1f1f1f" stroke-width="0.28" >Total number (lung)</text>
<text transform="translate(243.10,554.80) scale(1.035,1)" font-size="12.6" text-anchor="start" font-weight="normal" fill="#1f1f1f" stroke="#1f1f1f" stroke-width="0.28" >IL-12<tspan dy="-5.6" font-size="8.2">+</tspan><tspan dy="5.6" font-size="8.2">&#8203;</tspan> CD11c<tspan dy="-5.6" font-size="8.2">+</tspan><tspan dy="5.6" font-size="8.2">&#8203;</tspan></text>
<line x1="246.80" y1="563.30" x2="246.80" y2="676.30" stroke="#2e2e2e" stroke-width="1.4" />
<line x1="246.10" y1="675.60" x2="321.30" y2="675.60" stroke="#2e2e2e" stroke-width="1.4" />
<line x1="243.00" y1="564.00" x2="246.80" y2="564.00" stroke="#2e2e2e" stroke-width="1.3" />
<text transform="translate(239.50,568.40) scale(1.11,1)" font-size="9.8" text-anchor="end" font-weight="normal" fill="#1f1f1f" stroke="#1f1f1f" stroke-width="0.28" >1.2&#215;10<tspan dy="-3.7" font-size="8.7">6</tspan><tspan dy="3.7" font-size="8.7">&#8203;</tspan></text>
<line x1="243.00" y1="601.50" x2="246.80" y2="601.50" stroke="#2e2e2e" stroke-width="1.3" />
<text transform="translate(239.50,605.90) scale(1.11,1)" font-size="9.8" text-anchor="end" font-weight="normal" fill="#1f1f1f" stroke="#1f1f1f" stroke-width="0.28" >8.0&#215;10<tspan dy="-3.7" font-size="8.7">5</tspan><tspan dy="3.7" font-size="8.7">&#8203;</tspan></text>
<line x1="243.00" y1="638.40" x2="246.80" y2="638.40" stroke="#2e2e2e" stroke-width="1.3" />
<text transform="translate(239.50,642.80) scale(1.11,1)" font-size="9.8" text-anchor="end" font-weight="normal" fill="#1f1f1f" stroke="#1f1f1f" stroke-width="0.28" >4.0&#215;10<tspan dy="-3.7" font-size="8.7">5</tspan><tspan dy="3.7" font-size="8.7">&#8203;</tspan></text>
<line x1="243.00" y1="675.20" x2="246.80" y2="675.20" stroke="#2e2e2e" stroke-width="1.3" />
<text transform="translate(239.50,679.60) scale(1.11,1)" font-size="9.8" text-anchor="end" font-weight="normal" fill="#1f1f1f" stroke="#1f1f1f" stroke-width="0.28" >0.0</text>
<line x1="265.30" y1="675.60" x2="265.30" y2="679.60" stroke="#2e2e2e" stroke-width="1.3" />
<line x1="302.20" y1="675.60" x2="302.20" y2="679.60" stroke="#2e2e2e" stroke-width="1.3" />
<line x1="265.10" y1="634.70" x2="265.10" y2="638.70" stroke="#2e2e2e" stroke-width="1.3" />
<line x1="258.85" y1="634.70" x2="271.35" y2="634.70" stroke="#2e2e2e" stroke-width="1.3" />
<rect x="252.53" y="639.33" width="25.15" height="36.27" fill="#fff" stroke="#2e2e2e" stroke-width="1.25"/>
<line x1="302.45" y1="594.50" x2="302.45" y2="608.70" stroke="#2e2e2e" stroke-width="1.3" />
<line x1="295.95" y1="594.50" x2="308.95" y2="594.50" stroke="#2e2e2e" stroke-width="1.3" />
<rect x="290.03" y="609.33" width="24.85" height="66.27" fill="#b3b3b3" stroke="#2e2e2e" stroke-width="1.25"/>
<line x1="262.50" y1="575.40" x2="300.20" y2="575.40" stroke="#222" stroke-width="1.6" />
<polygon points="281.00,566.45 281.88,568.14 283.76,568.45 282.43,569.81 282.70,571.70 281.00,570.85 279.30,571.70 279.57,569.81 278.24,568.45 280.12,568.14" fill="#222"/>
<text transform="translate(193.00,620.20) rotate(-90) scale(1.035,1)" font-size="12.6" text-anchor="middle" font-weight="normal" fill="#1f1f1f" stroke="#1f1f1f" stroke-width="0.28" >IL-12<tspan dy="-4.2" font-size="7.9">+</tspan><tspan dy="4.2" font-size="7.9">&#8203;</tspan> CD11c<tspan dy="-4.2" font-size="7.9">+</tspan><tspan dy="4.2" font-size="7.9">&#8203;</tspan> cells</text>
<text transform="translate(399.50,554.80) scale(1.035,1)" font-size="12.6" text-anchor="start" font-weight="normal" fill="#1f1f1f" stroke="#1f1f1f" stroke-width="0.28" >NK1.1<tspan dy="-5.6" font-size="8.2">+</tspan><tspan dy="5.6" font-size="8.2">&#8203;</tspan> CD3<tspan dy="-5.6" font-size="8.2">&#8722;</tspan><tspan dy="5.6" font-size="8.2">&#8203;</tspan></text>
<line x1="400.20" y1="563.50" x2="400.20" y2="676.80" stroke="#2e2e2e" stroke-width="1.4" />
<line x1="399.50" y1="676.10" x2="474.70" y2="676.10" stroke="#2e2e2e" stroke-width="1.4" />
<line x1="396.40" y1="564.20" x2="400.20" y2="564.20" stroke="#2e2e2e" stroke-width="1.3" />
<text transform="translate(392.90,568.60) scale(1.11,1)" font-size="9.8" text-anchor="end" font-weight="normal" fill="#1f1f1f" stroke="#1f1f1f" stroke-width="0.28" >8&#215;10<tspan dy="-3.7" font-size="8.7">5</tspan><tspan dy="3.7" font-size="8.7">&#8203;</tspan></text>
<line x1="396.40" y1="592.00" x2="400.20" y2="592.00" stroke="#2e2e2e" stroke-width="1.3" />
<text transform="translate(392.90,596.40) scale(1.11,1)" font-size="9.8" text-anchor="end" font-weight="normal" fill="#1f1f1f" stroke="#1f1f1f" stroke-width="0.28" >6&#215;10<tspan dy="-3.7" font-size="8.7">5</tspan><tspan dy="3.7" font-size="8.7">&#8203;</tspan></text>
<line x1="396.40" y1="619.80" x2="400.20" y2="619.80" stroke="#2e2e2e" stroke-width="1.3" />
<text transform="translate(392.90,624.20) scale(1.11,1)" font-size="9.8" text-anchor="end" font-weight="normal" fill="#1f1f1f" stroke="#1f1f1f" stroke-width="0.28" >4&#215;10<tspan dy="-3.7" font-size="8.7">5</tspan><tspan dy="3.7" font-size="8.7">&#8203;</tspan></text>
<line x1="396.40" y1="647.90" x2="400.20" y2="647.90" stroke="#2e2e2e" stroke-width="1.3" />
<text transform="translate(392.90,652.30) scale(1.11,1)" font-size="9.8" text-anchor="end" font-weight="normal" fill="#1f1f1f" stroke="#1f1f1f" stroke-width="0.28" >2&#215;10<tspan dy="-3.7" font-size="8.7">5</tspan><tspan dy="3.7" font-size="8.7">&#8203;</tspan></text>
<line x1="396.40" y1="675.70" x2="400.20" y2="675.70" stroke="#2e2e2e" stroke-width="1.3" />
<text transform="translate(392.90,680.10) scale(1.11,1)" font-size="9.8" text-anchor="end" font-weight="normal" fill="#1f1f1f" stroke="#1f1f1f" stroke-width="0.28" >0</text>
<line x1="418.90" y1="676.10" x2="418.90" y2="680.10" stroke="#2e2e2e" stroke-width="1.3" />
<line x1="456.10" y1="676.10" x2="456.10" y2="680.10" stroke="#2e2e2e" stroke-width="1.3" />
<line x1="418.70" y1="650.80" x2="418.70" y2="654.10" stroke="#2e2e2e" stroke-width="1.3" />
<line x1="412.45" y1="650.80" x2="424.95" y2="650.80" stroke="#2e2e2e" stroke-width="1.3" />
<rect x="405.93" y="654.73" width="25.55" height="21.38" fill="#fff" stroke="#2e2e2e" stroke-width="1.25"/>
<line x1="455.55" y1="592.00" x2="455.55" y2="612.60" stroke="#2e2e2e" stroke-width="1.3" />
<line x1="449.05" y1="592.00" x2="462.05" y2="592.00" stroke="#2e2e2e" stroke-width="1.3" />
<rect x="443.12" y="613.23" width="24.85" height="62.88" fill="#b3b3b3" stroke="#2e2e2e" stroke-width="1.25"/>
<line x1="419.30" y1="574.90" x2="457.00" y2="574.90" stroke="#222" stroke-width="1.6" />
<polygon points="440.60,565.85 441.48,567.54 443.36,567.85 442.03,569.21 442.30,571.10 440.60,570.25 438.90,571.10 439.17,569.21 437.84,567.85 439.72,567.54" fill="#222"/>
<text transform="translate(354.60,620.50) rotate(-90) scale(1.040668582987331,1)" font-size="12.4" text-anchor="middle" font-weight="normal" fill="#1f1f1f" stroke="#1f1f1f" stroke-width="0.28" >Total NK cells</text>
<text transform="translate(562.90,555.00) scale(1.035,1)" font-size="12.6" text-anchor="start" font-weight="normal" fill="#1f1f1f" stroke="#1f1f1f" stroke-width="0.28" >CD11b<tspan dy="-5.6" font-size="8.2">+</tspan><tspan dy="5.6" font-size="8.2">&#8203;</tspan> Gr-1<tspan dy="-5.6" font-size="8.2">+</tspan><tspan dy="5.6" font-size="8.2">&#8203;</tspan></text>
<line x1="565.30" y1="563.10" x2="565.30" y2="676.90" stroke="#2e2e2e" stroke-width="1.4" />
<line x1="564.60" y1="676.20" x2="640.10" y2="676.20" stroke="#2e2e2e" stroke-width="1.4" />
<line x1="561.50" y1="563.80" x2="565.30" y2="563.80" stroke="#2e2e2e" stroke-width="1.3" />
<text transform="translate(558.00,568.20) scale(1.11,1)" font-size="9.8" text-anchor="end" font-weight="normal" fill="#1f1f1f" stroke="#1f1f1f" stroke-width="0.28" >1.5&#215;10<tspan dy="-3.7" font-size="8.7">6</tspan><tspan dy="3.7" font-size="8.7">&#8203;</tspan></text>
<line x1="561.50" y1="601.20" x2="565.30" y2="601.20" stroke="#2e2e2e" stroke-width="1.3" />
<text transform="translate(558.00,605.60) scale(1.11,1)" font-size="9.8" text-anchor="end" font-weight="normal" fill="#1f1f1f" stroke="#1f1f1f" stroke-width="0.28" >1.0&#215;10<tspan dy="-3.7" font-size="8.7">6</tspan><tspan dy="3.7" font-size="8.7">&#8203;</tspan></text>
<line x1="561.50" y1="638.30" x2="565.30" y2="638.30" stroke="#2e2e2e" stroke-width="1.3" />
<text transform="translate(558.00,642.70) scale(1.11,1)" font-size="9.8" text-anchor="end" font-weight="normal" fill="#1f1f1f" stroke="#1f1f1f" stroke-width="0.28" >5.0&#215;10<tspan dy="-3.7" font-size="8.7">5</tspan><tspan dy="3.7" font-size="8.7">&#8203;</tspan></text>
<line x1="561.50" y1="675.80" x2="565.30" y2="675.80" stroke="#2e2e2e" stroke-width="1.3" />
<text transform="translate(558.00,680.20) scale(1.11,1)" font-size="9.8" text-anchor="end" font-weight="normal" fill="#1f1f1f" stroke="#1f1f1f" stroke-width="0.28" >0.0</text>
<line x1="584.20" y1="676.20" x2="584.20" y2="680.20" stroke="#2e2e2e" stroke-width="1.3" />
<line x1="621.60" y1="676.20" x2="621.60" y2="680.20" stroke="#2e2e2e" stroke-width="1.3" />
<line x1="584.00" y1="628.80" x2="584.00" y2="641.30" stroke="#2e2e2e" stroke-width="1.3" />
<line x1="577.25" y1="628.80" x2="590.75" y2="628.80" stroke="#2e2e2e" stroke-width="1.3" />
<rect x="571.52" y="641.92" width="24.95" height="34.27" fill="#fff" stroke="#2e2e2e" stroke-width="1.25"/>
<line x1="621.10" y1="584.20" x2="621.10" y2="585.40" stroke="#2e2e2e" stroke-width="1.3" />
<line x1="614.35" y1="584.20" x2="627.85" y2="584.20" stroke="#2e2e2e" stroke-width="1.3" />
<rect x="608.93" y="586.02" width="24.35" height="90.17" fill="#b3b3b3" stroke="#2e2e2e" stroke-width="1.25"/>
<line x1="583.30" y1="574.90" x2="620.70" y2="574.90" stroke="#222" stroke-width="1.6" />
<polygon points="602.80,565.85 603.68,567.54 605.56,567.85 604.23,569.21 604.50,571.10 602.80,570.25 601.10,571.10 601.37,569.21 600.04,567.85 601.92,567.54" fill="#222"/>
<text transform="translate(508.70,619.00) rotate(-90) scale(1.0446207018787663,1)" font-size="12.4" text-anchor="middle" font-weight="normal" fill="#1f1f1f" stroke="#1f1f1f" stroke-width="0.28" >Total neutrophils</text>
<rect x="433.55" y="694.35" width="18.00" height="8.40" fill="#fff" stroke="#2e2e2e" stroke-width="1.5"/>
<rect x="433.55" y="713.75" width="18.00" height="8.50" fill="#b3b3b3" stroke="#2e2e2e" stroke-width="1.5"/>
<text transform="translate(457.00,702.80) scale(1.0048028311425685,1)" font-size="12.8" text-anchor="start" font-weight="normal" fill="#1f1f1f" stroke="#1f1f1f" stroke-width="0.28" >No transfer</text>
<text transform="translate(457.00,722.00) scale(1.0166597682119207,1)" font-size="12.8" text-anchor="start" font-weight="normal" fill="#1f1f1f" stroke="#1f1f1f" stroke-width="0.28" >Polyclonal i.v.</text>
<text transform="translate(536.70,718.10) scale(0.9853928148440563,1)" font-size="8.5" text-anchor="start" font-weight="normal" fill="#1f1f1f" stroke="#1f1f1f" stroke-width="0.28" >shielded</text>
<text transform="translate(571.80,722.00) scale(1.0148948598130845,1)" font-size="12.8" text-anchor="start" font-weight="normal" fill="#1f1f1f" stroke="#1f1f1f" stroke-width="0.28" >CD4 cells</text>
</svg></body></html>
